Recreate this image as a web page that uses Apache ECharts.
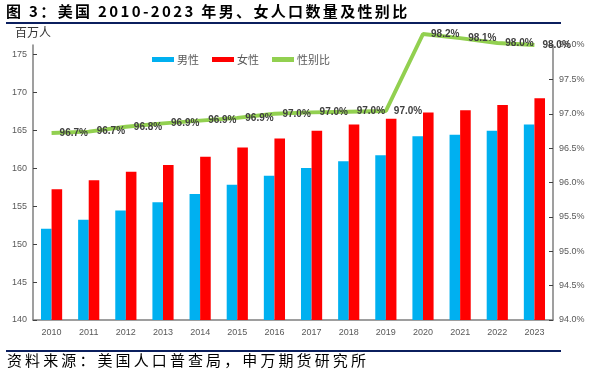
<!DOCTYPE html>
<html><head><meta charset="utf-8">
<script src="https://cdn.jsdelivr.net/npm/echarts@6/dist/echarts.min.js"></script>
<style>
html,body{margin:0;padding:0;background:#fff;}
#wrap{position:relative;width:591px;height:373px;overflow:hidden;}
#chart{position:absolute;left:0;top:0;width:591px;height:373px;}
#title{position:absolute;left:6px;top:1px;font-family:"Noto Sans CJK SC";font-weight:bold;font-size:15px;letter-spacing:2.35px;color:#000;white-space:nowrap;line-height:20px;}
#foot{position:absolute;left:7px;top:350px;font-family:"Noto Sans CJK SC";font-size:15px;letter-spacing:3.1px;color:#000;white-space:nowrap;line-height:20px;}
.rule{position:absolute;left:6px;width:555px;height:2px;background:#0B1F5E;}
</style></head>
<body><div id="wrap">
<div id="chart"></div>
<div id="title">图 3：美国 2010-2023 年男、女人口数量及性别比</div>
<div class="rule" style="top:22px"></div>
<div class="rule" style="top:350px"></div>
<div id="foot">资料来源：美国人口普查局，申万期货研究所</div>
</div>
<script>
const years = ['2010','2011','2012','2013','2014','2015','2016','2017','2018','2019','2020','2021','2022','2023'];
const male = [152.0,153.2,154.4,155.5,156.6,157.8,159.0,160.0,160.9,161.7,164.2,164.4,164.9,165.75];
const female = [157.2,158.4,159.5,160.4,161.5,162.7,163.9,164.9,165.75,166.5,167.3,167.6,168.3,169.2];
const sexRatio = [96.72,96.74,96.81,96.86,96.9,96.94,97.0,97.02,97.03,97.04,98.16,98.1,98.03,98.0];
const leftTicks = [140,145,150,155,160,165,170,175];
const seriesNames = ['男性','女性','性别比'];

const chart = echarts.init(document.getElementById('chart'));
const axisLabelStyle = {color:'#595959', fontSize:9, fontFamily:'Liberation Sans'};
chart.setOption({
  animation:false,
  grid:{left:33, right:38, top:45, bottom:53, containLabel:false},
  graphic:[{type:'text', left:15, top:26, style:{text:'百万人', font:'12px "Noto Sans CJK SC"', fill:'#333'}}],
  legend:{
    data:[{name:seriesNames[0], icon:'rect'},{name:seriesNames[1], icon:'rect'},{name:seriesNames[2], icon:'rect'}],
    left:147, top:49, itemWidth:22, itemHeight:5, itemGap:13,
    textStyle:{color:'#595959', fontSize:11, fontFamily:'Noto Sans CJK SC', padding:[0,0,0,-2]}
  },
  xAxis:{
    type:'category', data:years, boundaryGap:true,
    axisLine:{lineStyle:{color:'#7f7f7f', width:1.5}},
    axisTick:{inside:true, length:4, lineStyle:{color:'#404040'}},
    axisLabel:Object.assign({margin:8}, axisLabelStyle)
  },
  yAxis:[{
    type:'value', min:140, max:176.2,
    splitLine:{show:false},
    axisLine:{show:true, lineStyle:{color:'#7f7f7f', width:1.5}},
    axisTick:{show:true, inside:true, length:4, customValues:leftTicks, lineStyle:{color:'#404040'}},
    axisLabel:Object.assign({margin:6, customValues:leftTicks}, axisLabelStyle)
  },{
    type:'value', min:94, max:98, interval:0.5, position:'right',
    splitLine:{show:false},
    axisLine:{show:true, lineStyle:{color:'#7f7f7f', width:1.5}},
    axisTick:{show:true, inside:true, length:4, lineStyle:{color:'#404040'}},
    axisLabel:Object.assign({margin:6, formatter:v=>v.toFixed(1)+'%'}, axisLabelStyle)
  }],
  series:[{
    name:seriesNames[0], type:'bar', data:male, barGap:'0%', barCategoryGap:'43%',
    itemStyle:{color:'#00B0F0'}
  },{
    name:seriesNames[1], type:'bar', data:female, barGap:'0%', barCategoryGap:'43%',
    itemStyle:{color:'#FF0000'}
  },{
    name:seriesNames[2], type:'line', data:sexRatio, yAxisIndex:1, clip:false,
    symbol:'circle', symbolSize:0.01, showSymbol:true, z:5,
    lineStyle:{color:'#92D050', width:4},
    itemStyle:{color:'#92D050'},
    labelLayout:{hideOverlap:false},
    label:{show:true, position:'right', distance:8, color:'#404040', fontWeight:'bold',
      fontSize:10, fontFamily:'Liberation Sans', formatter:p=>p.value.toFixed(1)+'%'}
  }]
});
</script>
</body></html>
